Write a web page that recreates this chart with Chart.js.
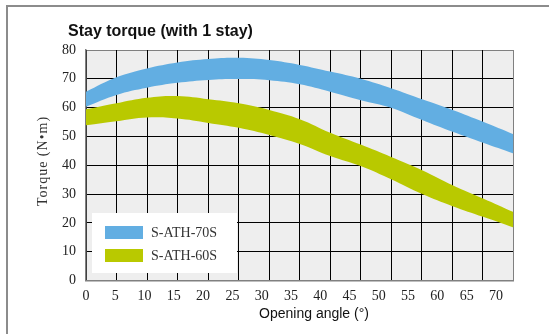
<!DOCTYPE html>
<html><head><meta charset="utf-8">
<script src="https://cdn.jsdelivr.net/npm/chart.js@4/dist/chart.umd.min.js"></script>
<style>html,body{margin:0;padding:0;background:#fff}#wrap{width:550px;height:334px;position:relative}</style>
</head><body><div id="wrap"><canvas id="c" width="550" height="334"></canvas></div>
<script>
// ---- data ----
const chartTitle = 'Stay torque (with 1 stay)';
const xAxisTitle = 'Opening angle (°)';
const yAxisTitle = 'Torque (N•m)';
const seriesNames = ['S-ATH-70S', 'S-ATH-60S'];
const angles    = [0, 5.2, 10.4, 15.6, 20.9, 26.1, 31.3, 36.5, 41.7, 46.9, 52.1, 57.4, 62.6, 67.8, 73];
const s70Upper  = [65.5, 70.5, 73.6, 75.7, 76.9, 77.3, 76.5, 74.8, 72.5, 70.0, 66.7, 62.9, 59.2, 55.1, 50.8];
const s70Lower  = [60.3, 64.4, 66.9, 68.6, 69.6, 69.9, 69.5, 68.1, 65.5, 62.6, 60.0, 55.7, 51.6, 47.8, 44.1];
const s60Upper  = [59.4, 61.5, 63.4, 64.0, 62.9, 61.5, 59.2, 56.0, 51.3, 47.2, 42.9, 38.3, 33.1, 28.5, 23.8];
const s60Lower  = [53.9, 55.3, 56.6, 56.2, 54.7, 53.0, 50.5, 47.4, 43.2, 39.7, 35.1, 30.0, 25.8, 22.1, 18.4];
const xMin = 0, xMax = 73, xStep = 5;
const yMin = 0, yMax = 80, yStep = 10;
const gridDivisions = 14;

// ---- styles ----
const blue = '#62aee2';
const olive = '#b9c900';
const serif = '"Liberation Serif", "Times New Roman", serif';
const sans = '"Liberation Sans", Arial, sans-serif';

const pts = (ys) => angles.map((a, i) => ({x: a, y: ys[i]}));
const band = (label, ys, color, fill) => ({
  label, data: pts(ys), xAxisID: 'x', yAxisID: 'y',
  borderWidth: 0, pointRadius: 0, tension: 0.4,
  backgroundColor: color, borderColor: color, fill
});

const decor = {
  id: 'decor',
  beforeDraw(chart) {
    const {ctx, chartArea: a} = chart;
    ctx.save();
    ctx.fillStyle = '#eeeeee';
    ctx.fillRect(a.left, a.top, a.right - a.left, a.bottom - a.top);
    ctx.strokeStyle = '#8c8c8c'; ctx.lineWidth = 2;
    ctx.beginPath(); ctx.moveTo(7, 334); ctx.lineTo(7, 6); ctx.lineTo(549, 6); ctx.stroke();
    ctx.fillStyle = '#111';
    ctx.font = 'bold 16px ' + sans;
    ctx.textAlign = 'left'; ctx.textBaseline = 'alphabetic';
    ctx.fillText(chartTitle, 68, 36);
    ctx.restore();
  },
  afterDraw(chart) {
    const {ctx} = chart;
    ctx.save();
    // x axis title
    ctx.fillStyle = '#111';
    ctx.font = '14px ' + sans;
    ctx.textAlign = 'center'; ctx.textBaseline = 'middle';
    ctx.fillText(xAxisTitle, 314, 314);
    // y axis title
    ctx.save();
    ctx.translate(43, 161);
    ctx.rotate(-Math.PI / 2);
    ctx.font = '14px ' + serif;
    ctx.fillStyle = '#333';
    try { ctx.letterSpacing = '1px'; } catch (e) {}
    ctx.fillText(yAxisTitle, 0, 0);
    ctx.restore();
    // legend
    ctx.fillStyle = '#ffffff';
    ctx.fillRect(92, 213, 145, 60);
    const cols = [chart.data.datasets[0].backgroundColor, chart.data.datasets[2].backgroundColor];
    ctx.font = '14px ' + serif;
    ctx.textAlign = 'left'; ctx.textBaseline = 'middle';
    seriesNames.forEach((n, i) => {
      const y = 226 + i * 23;
      ctx.fillStyle = cols[i];
      ctx.fillRect(105, y, 38, 13);
      ctx.fillStyle = '#333';
      ctx.fillText(n, 151, y + 7);
    });
    ctx.restore();
  }
};

new Chart(document.getElementById('c'), {
  type: 'line',
  data: {
    datasets: [
      band(seriesNames[0], s70Upper, blue, '+1'),
      band(seriesNames[0] + ' lower', s70Lower, blue, false),
      band(seriesNames[1], s60Upper, olive, '+1'),
      band(seriesNames[1] + ' lower', s60Lower, olive, false)
    ]
  },
  options: {
    responsive: false,
    animation: false,
    devicePixelRatio: 1,
    layout: {padding: {top: 50, right: 36.5, left: 0, bottom: 0}},
    plugins: {legend: {display: false}, title: {display: false}, tooltip: {enabled: false}},
    scales: {
      y: {
        type: 'linear', position: 'left', min: yMin, max: yMax, z: 1,
        afterFit: (s) => { s.width = 86; },
        ticks: {stepSize: yStep, padding: 10, color: '#222', font: {family: serif, size: 14}},
        grid: {drawTicks: false, color: (c) => c.tick && c.tick.value === yMax ? '#808080' : '#000', lineWidth: 1},
        border: {display: true, color: '#808080', width: 1.5}
      },
      xg: {
        type: 'linear', position: 'bottom', min: 0, max: gridDivisions, weight: 0, z: 1,
        afterFit: (s) => { s.height = 0; },
        ticks: {display: false, stepSize: 1},
        grid: {drawTicks: false, color: (c) => c.tick && c.tick.value === gridDivisions ? '#808080' : '#000', lineWidth: 1},
        border: {display: true, color: '#808080', width: 1.5}
      },
      x: {
        type: 'linear', position: 'bottom', min: xMin, max: xMax, weight: 1,
        afterFit: (s) => { s.height = 53.5; },
        ticks: {stepSize: xStep, includeBounds: false, autoSkip: false, maxRotation: 0, padding: 7, color: '#222', font: {family: serif, size: 14}},
        grid: {display: false, drawTicks: false},
        border: {display: false}
      }
    }
  },
  plugins: [decor]
});
</script>
</body></html>
